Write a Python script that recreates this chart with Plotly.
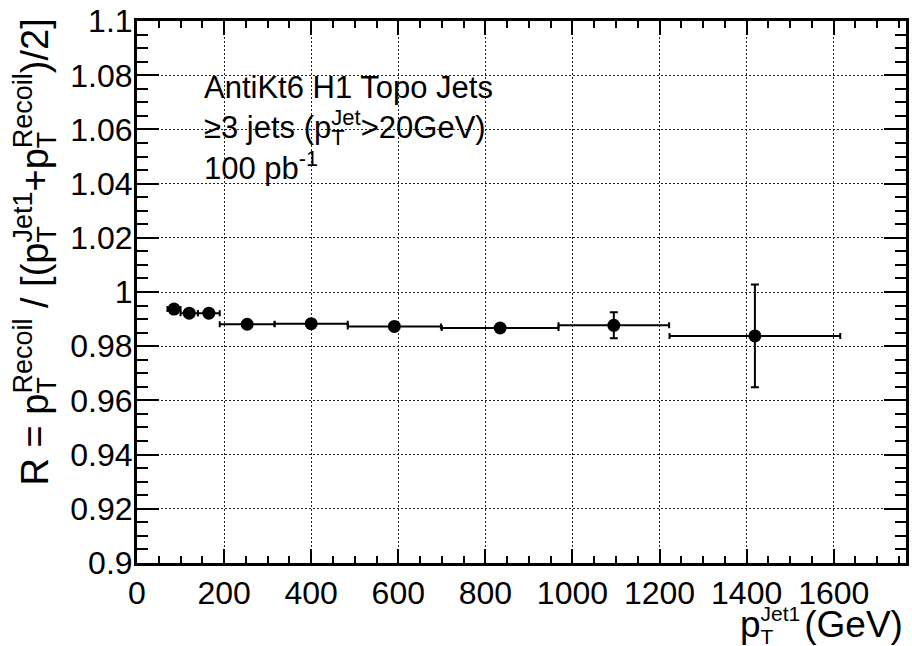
import plotly.graph_objects as go

# ---- data ----
pt_center = [85, 120, 165, 253, 400, 591, 834, 1095, 1419]
pt_halfwidth = [15, 20, 25, 63, 84, 107, 134, 127, 196]
response = [0.9937, 0.9922, 0.9922, 0.9881, 0.9883, 0.9873, 0.9867, 0.9877, 0.9838]
response_err = [0.0004, 0.0005, 0.0006, 0.0005, 0.0007, 0.0010, 0.0015, 0.0048, 0.0190]

x_tickvals = [0, 200, 400, 600, 800, 1000, 1200, 1400, 1600]
x_ticktext = ["0", "200", "400", "600", "800", "1000", "1200", "1400", "1600"]
y_tickvals = [0.90, 0.92, 0.94, 0.96, 0.98, 1.00, 1.02, 1.04, 1.06, 1.08, 1.10]
y_ticktext = ["0.9", "0.92", "0.94", "0.96", "0.98", "1", "1.02", "1.04", "1.06", "1.08", "1.1"]

FONT = "Liberation Sans, Arial, Helvetica, sans-serif"

def stacked(sub, sup, size):
    # subscript and superscript starting at the same x (ROOT style)
    w = 0.611 * size * len(sub)
    return (f"<sub><span style='font-size:{size}px;letter-spacing:-{w:.1f}px'>{sub}</span></sub>"
            f"<sup><span style='font-size:{size}px'>{sup}</span></sup>")

fig = go.Figure(
    go.Scatter(
        x=pt_center, y=response, mode="markers",
        marker=dict(color="black", size=13, symbol="circle"),
        error_x=dict(type="data", array=pt_halfwidth, color="black", thickness=2, width=3),
        error_y=dict(type="data", array=response_err, color="black", thickness=2, width=4),
    )
)

axis_common = dict(
    showline=True, linewidth=3, linecolor="black", mirror="ticks",
    ticks="inside", tickwidth=2, tickcolor="black",
    showgrid=True, gridcolor="#222", gridwidth=1, griddash="2px,2px",
    zeroline=False, tickfont=dict(family=FONT, size=32, color="black"),
    ticklabeloverflow="allow",
)

fig.update_xaxes(
    range=[0, 1766], tickmode="array", tickvals=x_tickvals, ticktext=x_ticktext,
    ticklen=14,
    minor=dict(tickmode="linear", tick0=0, dtick=50, ticklen=7, tickwidth=2,
               tickcolor="black", ticks="inside", showgrid=False),
    **axis_common,
)
fig.update_yaxes(
    range=[0.89995, 1.10005], tickmode="array", tickvals=y_tickvals, ticktext=y_ticktext,
    ticklen=22, ticklabelstandoff=-5,
    minor=dict(tickmode="linear", tick0=0.9, dtick=0.005, ticklen=11, tickwidth=2,
               tickcolor="black", ticks="inside", showgrid=False),
    **axis_common,
)

T = 31
info_text = ("AntiKt6 H1 Topo Jets<br>"
             "≥3 jets (p" + stacked("T", "Jet", 22) + "&gt;20GeV)<br>"
             "100 pb<sup>-1</sup>")

TX = 37
x_title = ("p" + stacked("T", "Jet1", 21)
           + "<span style='font-size:14px'>\u00a0</span>(GeV)")
TY = 38
y_title = ("R = p" + stacked("T", "Recoil", 27) + " / [(p" + stacked("T", "Jet1", 27)
           + "+p" + stacked("T", "Recoil", 27) + ")/2]")

fig.update_layout(
    width=912, height=646,
    margin=dict(l=137, r=3, t=15, b=83),
    plot_bgcolor="white", paper_bgcolor="white",
    showlegend=False,
    font=dict(family=FONT, color="black"),
    annotations=[
        dict(text=info_text, xref="x", yref="y", x=150, y=1.0826,
             xanchor="left", yanchor="top", align="left", showarrow=False,
             font=dict(family=FONT, size=T, color="black")),
        dict(text=x_title, xref="paper", yref="paper", x=1, y=0,
             xanchor="right", yanchor="top", yshift=-37, xshift=-1, showarrow=False,
             font=dict(family=FONT, size=TX, color="black")),
        dict(text=y_title, xref="paper", yref="paper", x=0, y=1,
             xanchor="center", yanchor="top", xshift=-105, yshift=4, textangle=-90,
             showarrow=False, font=dict(family=FONT, size=TY, color="black")),
    ],
)

fig.write_html("out.html")
